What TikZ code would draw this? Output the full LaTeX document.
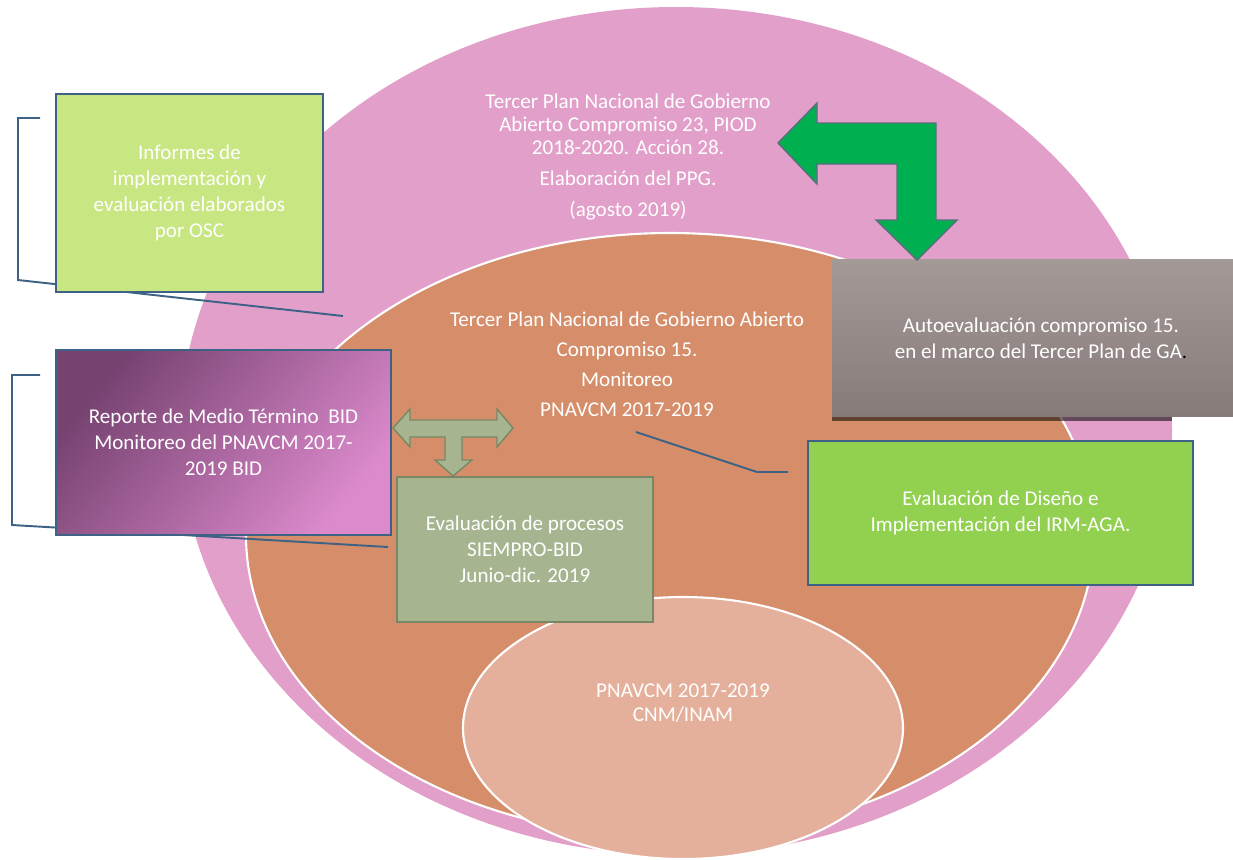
\documentclass[tikz,border=0pt]{standalone}
\usepackage{fontspec}
\setmainfont{Carlito}
\usepackage{tikz}
\definecolor{pinkcolor}{RGB}{226,159,201}
\definecolor{orangecolor}{RGB}{214,142,106}
\definecolor{innercolor}{RGB}{228,176,155}
\definecolor{osccolor}{RGB}{200,230,130}
\definecolor{irmcolor}{RGB}{146,208,80}
\definecolor{sagecolor}{RGB}{166,180,144}
\definecolor{sageborder}{RGB}{120,136,100}
\definecolor{biddark}{RGB}{118,66,112}
\definecolor{bidlight}{RGB}{220,138,204}
\definecolor{graytop}{RGB}{163,153,151}
\definecolor{graybottom}{RGB}{135,123,122}
\definecolor{linecolor}{RGB}{62,98,133}
\definecolor{arrowgreen}{RGB}{0,176,80}
\definecolor{arrowborder}{RGB}{90,110,128}
\newcommand{\boxfont}{\fontsize{12}{14.7}\selectfont}

\begin{document}
\begin{tikzpicture}[
    x=0.02cm, y=-0.02cm,
    box/.style={draw=linecolor, line width=1.1pt, fill=#1, text=white, align=center, font=\boxfont, inner sep=0pt, execute at begin node={\rule{0pt}{12.4pt}}},
    ovaltext/.style={text=white, align=center, font=\boxfont},
    callout/.style={draw=linecolor, line width=1.1pt}
]
    \useasboundingbox (0,0) rectangle (1233,859);
    \clip (0,0) rectangle (1233,859);

    % Ovals
    \fill[pinkcolor] (676,431) ellipse [x radius=496, y radius=424];
    \draw[white, line width=1.2pt, fill=orangecolor] (670,535) ellipse [x radius=424, y radius=302];
    \draw[white, line width=1.2pt, fill=innercolor] (683,728) ellipse [x radius=220, y radius=131];

    \node[ovaltext, font=\fontsize{12}{13}\selectfont] (ppg) at (628,157) {Tercer Plan Nacional de Gobierno\\Abierto Compromiso 23, PIOD\\2018-2020. Acción 28.\\[4.6pt]Elaboración del PPG.\\[4.6pt](agosto 2019)};
    \node[ovaltext, font=\fontsize{12}{17}\selectfont] (monitoreo) at (627,364) {Tercer Plan Nacional de Gobierno Abierto\\Compromiso 15.\\Monitoreo\\PNAVCM 2017-2019};
    \node[ovaltext, font=\fontsize{12}{13.6}\selectfont] (pnavcm) at (683,703) {PNAVCM 2017-2019\\CNM/INAM};

    % Callout lines
    \coordinate (osctop) at (40,118);
    \coordinate (oscend) at (343,316);
    \coordinate (bidtop) at (40,375);
    \coordinate (bidend) at (388,547);
    \coordinate (monend) at (636,432);
    \coordinate (irmend) at (788,472);
    \draw[callout] (osctop) -- (18,118) -- (18,280) -- (oscend);
    \draw[callout] (bidtop) -- (12,375) -- (12,525) -- (bidend);
    \draw[callout] (monend) -- (757,472) -- (irmend);

    % Boxes
    \node[box=osccolor, minimum width=5.34cm, minimum height=3.96cm] (osc) at (189.5,193) {Informes de\\implementación y\\evaluación elaborados\\por OSC};
    \node[box=biddark, left color=biddark, right color=bidlight, shading angle=50, minimum width=6.7cm, minimum height=3.7cm] (bid) at (223.5,442.5) {Reporte de Medio Término~ BID\\Monitoreo del PNAVCM 2017-\\2019 BID};
    \node[box=sagecolor, draw=sageborder, minimum width=5.12cm, minimum height=2.9cm] (siempro) at (525,549.5) {Evaluación de procesos\\SIEMPRO-BID\\Junio-dic. 2019};
    \begin{scope}
        \clip (676,431) ellipse [x radius=496, y radius=424];
        \fill[black, opacity=0.55] (832,416) rectangle (1233,421);
    \end{scope}
    \node[box=graytop, draw=none, top color=graytop, bottom color=graybottom, minimum width=8.36cm, minimum height=3.14cm] (auto) at (1041,338) {Autoevaluación compromiso 15.\\en el marco del Tercer Plan de GA{\color{black}.}};
    \node[box=irmcolor, minimum width=7.7cm, minimum height=2.88cm] (irm) at (1000.5,513) {Evaluación de Diseño e\\Implementación del IRM-AGA.};

    % Block arrows
    \draw[fill=arrowgreen, draw=arrowborder, line width=0.8pt] (778,143) -- (817,103) -- (817,123) -- (936,123) -- (936,220) -- (957,220) -- (917,260) -- (876,220) -- (897,220) -- (897,164) -- (817,164) -- (817,184) -- cycle;
    \draw[fill=sagecolor, draw=sageborder, line width=0.8pt] (393,428) -- (410,409) -- (410,420) -- (497,420) -- (497,409) -- (513,428) -- (497,447) -- (497,437) -- (462,437) -- (462,460) -- (472,460) -- (453,476) -- (435,460) -- (445,460) -- (445,437) -- (410,437) -- (410,447) -- cycle;
\end{tikzpicture}
\end{document}
